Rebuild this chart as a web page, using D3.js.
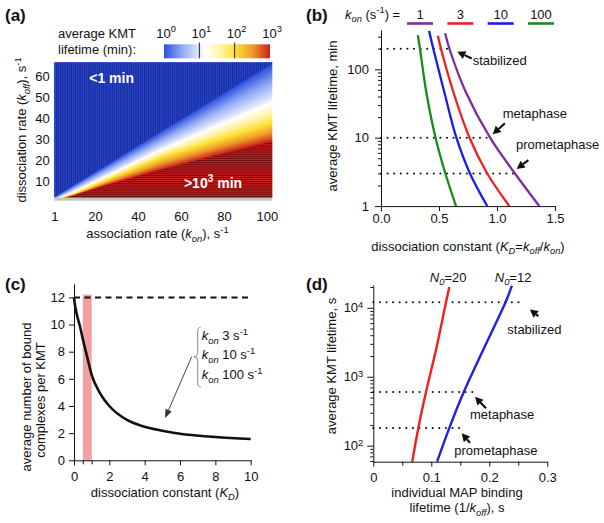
<!DOCTYPE html>
<html>
<head>
<meta charset="utf-8">
<script src="https://cdn.jsdelivr.net/npm/d3@7"></script>
<style>
  body { margin: 0; background: #fff; }
  svg { display: block; }
  text { font-family: "Liberation Sans", Arial, Helvetica, sans-serif; fill: #111; }
</style>
</head>
<body>
<svg id="fig" width="604" height="523"></svg>
<script>
// ---------- data ----------

// (a) heat map: iso-lifetime lines, k_off (s-1) at a given k_on (s-1)
const heatKon       = [1, 10, 25, 50, 75, 100];
const koffAt1min    = [2.6, 8.3, 17.6, 33.2, 48.7, 64.3];
const koffAt10min   = [1.6, 5.6, 13.1, 25.6, 37.0, 48.1];
const koffAt100min  = [1.2, 4.1, 10.6, 21.2, 29.2, 37.1];
const koffAt1000min = [1.0, 3.5, 8.3, 15.5, 22.1, 28.4];
const heatGrayKoff = 2.4;              // undefined rows at the bottom
const aXTicks = [1, 20, 40, 60, 80, 100];
const aYTicks = [10, 20, 30, 40, 50, 60];
const cbarTicks = [1, 10, 100, 1000];
const cbarStops = [0, 0.5, 1.15, 1.6, 2.0, 2.5, 3.0];   // log10(min)
const cbarColors = ["#2e50e0", "#8ea8f4", "#ffffff", "#fff4a8", "#fde234", "#ee9a2a", "#cc1e1e"];

// (b) lifetime (min) vs K_D for four k_on values
const bKon = [1, 3, 10, 100];
const bColors = ["#7a2da0", "#ee2020", "#1c1ce8", "#1b8a1b"];
const kdKon1   = [0.553, 0.59, 0.73, 0.94, 1.155, 1.365];
const lifeKon1 = [336, 200, 47, 10, 3, 1];
const kdKon3   = [0.49, 0.517, 0.623, 0.763, 0.916, 1.106];
const lifeKon3 = [309, 200, 47, 10, 3, 1];
const kdKon10   = [0.414, 0.451, 0.545, 0.65, 0.767, 0.916];
const lifeKon10 = [365, 200, 47, 10, 3, 1];
const kdKon100   = [0.318, 0.336, 0.39, 0.47, 0.555, 0.647];
const lifeKon100 = [316, 200, 47, 10, 3, 1];
const stageNames = ["stabilized", "metaphase", "prometaphase"];
const bStageLife = [200, 10, 3];
const bStageKD = [0.623, 0.94, 1.155];
const bXTicks = [0, 0.5, 1.0, 1.5];

// (c) bound complexes vs K_D
const cKD    = [0, 0.06, 0.15, 0.34, 0.53, 0.72, 1.0, 1.47, 2.0, 3.0, 4.0, 5.0, 6.0, 8.0, 10.0];
const cBound = [12, 11.4, 10.8, 9.85, 8.75, 7.75, 6.3, 4.95, 4.0, 2.97, 2.47, 2.18, 1.95, 1.72, 1.57];
const cMaxSites = 12;
const cBand = [0.5, 1.0];
const cXTicks = [0, 2, 4, 6, 8, 10];
const cYTicks = [0, 2, 4, 6, 8, 10, 12];
const cKonLabels = ["3", "10", "100"];

// (d) lifetime (s) vs individual binding lifetime (s)
const dN0 = [20, 12];
const dColors = ["#ee2020", "#2020e0"];
const dXn20    = [0.0672, 0.0776, 0.0909, 0.1093, 0.1253, 0.131];
const dLifeN20 = [58.6, 180, 600, 2720, 12000, 20000];
const dXn12    = [0.110, 0.131, 0.156, 0.192, 0.228, 0.239];
const dLifeN12 = [58.6, 180, 600, 2720, 12000, 20900];
const dStageLife = [12000, 600, 180];
const dStageX = [0.253, 0.1724, 0.148];
const dXTicks = [0, 0.1, 0.2, 0.3];

// ---------- helpers ----------
const svg = d3.select("#fig");
svg.append("rect").attr("width", 604).attr("height", 523).attr("fill", "#fff");
const FS = 13;

// text with italic / sub / sup pieces: parts = [[str, style], ...]
function rich(g, x, y, parts, fs, anchor) {
  const t = g.append("text").attr("x", x).attr("y", y)
    .attr("font-size", fs).attr("text-anchor", anchor || "start");
  let shift = 0;
  parts.forEach(p => {
    const str = typeof p === "string" ? p : p[0];
    const st = typeof p === "string" ? "" : p[1];
    let target = 0, size = fs;
    if (st.includes("sub")) { target = 0.28 * fs; size = 0.72 * fs; }
    if (st.includes("sup")) { target = -0.42 * fs; size = 0.72 * fs; }
    const ts = t.append("tspan").text(str).attr("font-size", size).attr("dy", target - shift);
    if (st.startsWith("i")) ts.attr("font-style", "italic");
    shift = target;
  });
  return t;
}
function vrich(x, y, parts, fs) {
  const g = svg.append("g").attr("transform", `translate(${x},${y}) rotate(-90)`);
  return rich(g, 0, 0, parts, fs, "middle");
}
function styleAxis(g) {
  g.attr("font-size", FS).attr("font-family", null);
  g.selectAll("path, line").attr("stroke", "#111").attr("stroke-width", 1);
  g.selectAll("text").attr("fill", "#111");
  return g;
}
function powTen(sel) {
  sel.selectAll("text").each(function(d) {
    const t = d3.select(this);
    t.text("");
    t.append("tspan").text("10");
    t.append("tspan").attr("dy", "-0.45em").attr("font-size", "0.72em").text(Math.round(Math.log10(d)));
  });
}
function arrow(g, x1, y1, x2, y2, opt) {
  const o = Object.assign({ color: "#111", width: 2.2, len: 8, half: 4.2, head: "#111" }, opt);
  const a = Math.atan2(y2 - y1, x2 - x1);
  const bx = x2 - o.len * Math.cos(a), by = y2 - o.len * Math.sin(a);
  g.append("line").attr("x1", x1).attr("y1", y1).attr("x2", bx).attr("y2", by)
    .attr("stroke", o.color).attr("stroke-width", o.width);
  const nx = -Math.sin(a) * o.half, ny = Math.cos(a) * o.half;
  g.append("path").attr("d", `M${x2},${y2}L${bx + nx},${by + ny}L${bx - nx},${by - ny}Z`).attr("fill", o.head);
}
function panelLabel(x, y, s) {
  svg.append("text").attr("x", x).attr("y", y).attr("font-size", 17)
    .attr("font-weight", "bold").text(s);
}
const dotted = { dash: "0,6.6", width: 2.1 };

// ================= (a) =================
panelLabel(5, 21, "(a)");
const aX = d3.scaleLinear().domain([1, 102.5]).range([54.3, 272.3]);
const aY = d3.scaleLinear().domain([1, 66.5]).range([200.7, 62.3]);
const cbarColor = d3.scaleLinear().domain(cbarStops).range(cbarColors).clamp(true);
const contourScales = [koffAt1min, koffAt10min, koffAt100min, koffAt1000min]
  .map(r => d3.scaleLinear().domain(heatKon).range(r));

function logLife(kon, koff) {
  const c = contourScales.map(s => s(kon));
  if (koff >= c[0]) return 0;
  if (koff <= c[3]) return 3;
  for (let k = 0; k < 3; k++) {
    if (koff <= c[k] && koff >= c[k + 1]) return k + (c[k] - koff) / (c[k] - c[k + 1]);
  }
  return 3;
}

// heat map raster
const hx0 = aX(1), hx1 = aX(102.5), hy0 = aY(66.5), hy1 = aY(heatGrayKoff);
const SS = 3;
const cw = Math.round((hx1 - hx0) * SS), ch = Math.round((hy1 - hy0) * SS);
const canvas = document.createElement("canvas");
canvas.width = cw; canvas.height = ch;
const ctx = canvas.getContext("2d");
const im = ctx.createImageData(cw, ch);
const cache = new Map();
for (let i = 0; i < cw; i++) {
  const kon = aX.invert(hx0 + (i + 0.5) / SS);
  for (let j = 0; j < ch; j++) {
    const koff = aY.invert(hy0 + (j + 0.5) / SS);
    const t = Math.round(logLife(kon, koff) * 300) / 300;
    let c = cache.get(t);
    if (!c) { c = d3.rgb(cbarColor(t)); cache.set(t, c); }
    const p = (j * cw + i) * 4;
    im.data[p] = c.r; im.data[p + 1] = c.g; im.data[p + 2] = c.b; im.data[p + 3] = 255;
  }
}
ctx.putImageData(im, 0, 0);
svg.append("image").attr("href", canvas.toDataURL())
  .attr("x", hx0).attr("y", hy0).attr("width", hx1 - hx0).attr("height", hy1 - hy0)
  .attr("preserveAspectRatio", "none");

// cell stripes in the saturated regions
const konFine = d3.range(1, 102.51, 0.5);
const clampK = v => Math.max(heatGrayKoff, Math.min(66.5, v));
const bluePoly = konFine.map(k => [aX(k), aY(clampK(contourScales[0](k)))])
  .concat([[aX(102.5), aY(66.5)], [aX(1), aY(66.5)]]);
const redPoly = konFine.map(k => [aX(k), aY(clampK(contourScales[3](k)))])
  .concat([[aX(102.5), aY(heatGrayKoff)], [aX(1), aY(heatGrayKoff)]]);
const defs = svg.append("defs");
defs.append("clipPath").attr("id", "clipBlue").append("path").attr("d", "M" + bluePoly.join("L") + "Z");
defs.append("clipPath").attr("id", "clipRed").append("path").attr("d", "M" + redPoly.join("L") + "Z");
svg.append("g").attr("clip-path", "url(#clipBlue)").selectAll("rect")
  .data([0]).join("rect").attr("x", hx0).attr("y", hy0).attr("width", hx1 - hx0).attr("height", hy1 - hy0)
  .attr("fill", "#2846d6");
svg.append("g").attr("clip-path", "url(#clipBlue)").selectAll("line")
  .data(d3.range(1, 103)).join("line")
  .attr("x1", d => aX(d)).attr("x2", d => aX(d)).attr("y1", hy0).attr("y2", hy1)
  .attr("stroke", "#16267e").attr("stroke-width", 0.85);
svg.append("g").attr("clip-path", "url(#clipRed)").selectAll("rect")
  .data([0]).join("rect").attr("x", hx0).attr("y", hy0).attr("width", hx1 - hx0).attr("height", hy1 - hy0)
  .attr("fill", "#cc1e1e");
svg.append("g").attr("clip-path", "url(#clipRed)").selectAll("line")
  .data(d3.range(3, 67)).join("line")
  .attr("y1", d => aY(d)).attr("y2", d => aY(d)).attr("x1", hx0).attr("x2", hx1)
  .attr("stroke", "#5e0808").attr("stroke-width", 0.85);
svg.append("rect").attr("x", hx0).attr("y", aY(heatGrayKoff)).attr("width", hx1 - hx0)
  .attr("height", aY(1) - aY(heatGrayKoff)).attr("fill", "#c4c4c4");

svg.append("text").attr("x", aX(27.7)).attr("y", aY(56.7)).attr("text-anchor", "middle")
  .attr("font-size", 14).attr("font-weight", "bold").style("fill", "#fff").text("<1 min");
rich(svg, aX(74.9), aY(7), [">10", ["3", "sup"], " min"], 14, "middle")
  .attr("font-weight", "bold").style("fill", "#fff").selectAll("tspan").style("fill", "#fff");

styleAxis(svg.append("g").attr("transform", `translate(0,${aY(1)})`)
  .call(d3.axisBottom(aX).tickValues(aXTicks).tickSize(0).tickPadding(11.5)))
  .call(g => g.select(".domain").remove());
styleAxis(svg.append("g").attr("transform", `translate(${aX(1)},0)`)
  .call(d3.axisLeft(aY).tickValues(aYTicks).tickSize(0).tickPadding(4.5)))
  .call(g => g.select(".domain").remove());
rich(svg, 157.5, 238, ["association rate (", ["k", "i"], ["on", "isub"], "), s", ["-1", "sup"]], FS, "middle");
vrich(26, 130, ["dissociation rate (", ["k", "i"], ["off", "isub"], "), s", ["-1", "sup"]], FS);

// colour bar
const cbX = d3.scaleLog().domain([1, 1000]).range([164, 270]);
const grad = defs.append("linearGradient").attr("id", "cbar");
cbarStops.forEach((s, i) => grad.append("stop").attr("offset", s / 3).attr("stop-color", cbarColors[i]));
svg.append("rect").attr("x", cbX(1)).attr("y", 44.3).attr("width", cbX(1000) - cbX(1)).attr("height", 14)
  .attr("fill", "url(#cbar)");
svg.selectAll(".cbt").data(cbarTicks.slice(1, 3)).join("line")
  .attr("x1", d => cbX(d)).attr("x2", d => cbX(d)).attr("y1", 42.5).attr("y2", 58.3)
  .attr("stroke", "#222").attr("stroke-width", 1);
cbarTicks.forEach(v => rich(svg, cbX(v) + 2, 37.7, ["10", [String(Math.log10(v)), "sup"]], FS, "middle"));
svg.append("text").attr("x", 58).attr("y", 37.7).attr("font-size", FS).text("average KMT");
svg.append("text").attr("x", 58).attr("y", 53.5).attr("font-size", FS).text("lifetime (min):");

// ================= (b) =================
panelLabel(306, 21, "(b)");
const bX = d3.scaleLinear().domain([0, 1.5]).range([381, 555]);
const bY = d3.scaleLog().domain([1, 376]).range([206.1, 30]);
defs.append("clipPath").attr("id", "clipB").append("rect")
  .attr("x", bX(0)).attr("y", bY(376)).attr("width", bX(1.5) - bX(0)).attr("height", bY(1) - bY(376));

const bGrid = svg.append("g");
bStageLife.forEach((v, i) => bGrid.append("line")
  .attr("x1", bX(0)).attr("x2", bX(bStageKD[i])).attr("y1", bY(v)).attr("y2", bY(v))
  .attr("stroke", "#111").attr("stroke-width", dotted.width).attr("stroke-dasharray", dotted.dash)
  .attr("stroke-linecap", "round"));

const bSeries = [[kdKon1, lifeKon1], [kdKon3, lifeKon3], [kdKon10, lifeKon10], [kdKon100, lifeKon100]];
const bLine = d3.line().x(d => bX(d[0])).y(d => bY(d[1])).curve(d3.curveCatmullRom.alpha(0.5));
svg.append("g").attr("clip-path", "url(#clipB)").selectAll("path")
  .data(bSeries).join("path")
  .attr("d", s => bLine(d3.zip(s[0], s[1])))
  .attr("fill", "none").attr("stroke", (s, i) => bColors[i]).attr("stroke-width", 2.3);

styleAxis(svg.append("g").attr("transform", `translate(0,${bY(1)})`)
  .call(d3.axisBottom(bX).tickValues(bXTicks).tickFormat(d3.format(".1f")).tickSize(5).tickSizeOuter(0).tickPadding(3)));
styleAxis(svg.append("g").attr("transform", `translate(${bX(0)},0)`)
  .call(d3.axisLeft(bY).tickValues([1, 10, 100]).tickFormat(d3.format("d")).tickSize(6).tickSizeOuter(0).tickPadding(6)));
styleAxis(svg.append("g").attr("transform", `translate(${bX(0)},0)`)
  .call(d3.axisLeft(bY).tickValues([2, 3, 4, 5, 6, 7, 8, 9, 20, 30, 40, 50, 60, 70, 80, 90, 200, 300]).tickFormat("").tickSize(3)))
  .call(g => g.select(".domain").remove());
rich(svg, 468, 250.5, ["dissociation constant (", ["K", "i"], ["D", "isub"], "=", ["k", "i"], ["off", "isub"], ["/", ""], ["k", "i"], ["on", "isub"], ")"], FS, "middle");
vrich(337, 116, ["average KMT lifetime, min"], FS);

// legend
rich(svg, 345, 18.5, [["k", "i"], ["on", "isub"], " (s", ["-1", "sup"], ") ="], FS, "start");
const legX = d3.scalePoint().domain(bKon).range([420, 541]);
bKon.forEach((k, i) => {
  svg.append("text").attr("x", legX(k)).attr("y", 18.5).attr("text-anchor", "middle").attr("font-size", FS).text(k);
  svg.append("line").attr("x1", legX(k) - 13).attr("x2", legX(k) + 13).attr("y1", 23.5).attr("y2", 23.5)
    .attr("stroke", bColors[i]).attr("stroke-width", 2.6);
});

// stage annotations
const bAnn = [
  { tx: 0.79, ty: 115, ax: 0.782, ay: 144, hx: 0.658, hy: 181 },
  { tx: 1.049, ty: 19.2, ax: 1.068, ay: 16.3, hx: 0.963, hy: 11.2 },
  { tx: 1.164, ty: 6.76, ax: 1.27, ay: 4.72, hx: 1.17, hy: 3.49 }
];
bAnn.forEach((a, i) => {
  svg.append("text").attr("x", bX(a.tx)).attr("y", bY(a.ty)).attr("font-size", FS).text(stageNames[i]);
  arrow(svg, bX(a.ax), bY(a.ay), bX(a.hx), bY(a.hy));
});

// ================= (c) =================
panelLabel(5, 290, "(c)");
const cX = d3.scaleLinear().domain([0, 10]).range([74, 250.7]);
const cY = d3.scaleLinear().domain([0, 13]).range([460.3, 283.8]);
svg.append("rect").attr("x", cX(cBand[0])).attr("width", cX(cBand[1]) - cX(cBand[0]))
  .attr("y", cY(12.2)).attr("height", cY(0) - cY(12.2)).attr("fill", "#f5a0a0");
svg.append("line").attr("x1", cX(0)).attr("x2", cX(10.06)).attr("y1", cY(cMaxSites)).attr("y2", cY(cMaxSites))
  .attr("stroke", "#111").attr("stroke-width", 2).attr("stroke-dasharray", "6,4.5");
svg.append("path").datum(d3.zip(cKD, cBound))
  .attr("d", d3.line().x(d => cX(d[0])).y(d => cY(d[1])).curve(d3.curveMonotoneX))
  .attr("fill", "none").attr("stroke", "#111").attr("stroke-width", 2.6);
styleAxis(svg.append("g").attr("transform", `translate(0,${cY(0)})`)
  .call(d3.axisBottom(cX).tickValues(cXTicks).tickSize(5).tickSizeOuter(0).tickPadding(6)));
styleAxis(svg.append("g").attr("transform", `translate(0,${cY(0)})`)
  .call(d3.axisBottom(cX).tickValues(cBand).tickFormat("").tickSize(4)))
  .call(g => g.select(".domain").remove());
styleAxis(svg.append("g").attr("transform", `translate(${cX(0)},0)`)
  .call(d3.axisLeft(cY).tickValues(cYTicks).tickSize(5).tickSizeOuter(0).tickPadding(4)));
rich(svg, 165, 496.5, ["dissociation constant (", ["K", "i"], ["D", "isub"], ")"], FS, "middle");
vrich(31, 397, ["average number of bound"], FS);
vrich(44.5, 400, ["complexes per KMT"], FS);

// brace + k_on list
const braceX = cX(7.0), braceTop = cY(9.8), braceBot = cY(5.4), braceMid = cY(7.63);
svg.append("path")
  .attr("d", `M${braceX + 3},${braceTop} Q${braceX},${braceTop} ${braceX},${braceTop + 5} L${braceX},${braceMid - 4}
    Q${braceX},${braceMid} ${braceX - 4},${braceMid} Q${braceX},${braceMid} ${braceX},${braceMid + 4}
    L${braceX},${braceBot - 5} Q${braceX},${braceBot} ${braceX + 3},${braceBot}`)
  .attr("fill", "none").attr("stroke", "#888").attr("stroke-width", 1);
const cLabelY = [8.86, 7.44, 5.99];
cKonLabels.forEach((k, i) => rich(svg, cX(7.23), cY(cLabelY[i]),
  [["k", "i"], ["on", "isub"], " " + k + " s", ["-1", "sup"]], FS, "start"));
arrow(svg, cX(6.66), cY(7.63), cX(5.15), cY(3.09), { color: "#444", width: 1, len: 9, half: 3.3, head: "#333" });

// ================= (d) =================
panelLabel(306, 290, "(d)");
const dX = d3.scaleLinear().domain([0, 0.3]).range([373.3, 547.3]);
const dY = d3.scaleLog().domain([58.6, 21400]).range([461.7, 285]);
dStageLife.forEach((v, i) => svg.append("line")
  .attr("x1", dX(0)).attr("x2", dX(dStageX[i])).attr("y1", dY(v)).attr("y2", dY(v))
  .attr("stroke", "#111").attr("stroke-width", dotted.width).attr("stroke-dasharray", dotted.dash)
  .attr("stroke-linecap", "round"));
const dSeries = [[dXn20, dLifeN20], [dXn12, dLifeN12]];
const dLine = d3.line().x(d => dX(d[0])).y(d => dY(d[1])).curve(d3.curveCatmullRom.alpha(0.5));
svg.selectAll(".dcurve").data(dSeries).join("path")
  .attr("d", s => dLine(d3.zip(s[0], s[1])))
  .attr("fill", "none").attr("stroke", (s, i) => dColors[i]).attr("stroke-width", 2.4);
styleAxis(svg.append("g").attr("transform", `translate(0,${dY(58.6)})`)
  .call(d3.axisBottom(dX).tickValues(dXTicks).tickFormat(d => d === 0 ? "0" : d3.format(".1f")(d))
    .tickSize(5).tickSizeOuter(0).tickPadding(6)));
styleAxis(svg.append("g").attr("transform", `translate(0,${dY(58.6)})`)
  .call(d3.axisBottom(dX).tickValues([0.05, 0.15, 0.25]).tickFormat("").tickSize(4)))
  .call(g => g.select(".domain").remove());
styleAxis(svg.append("g").attr("transform", `translate(${dX(0)},0)`)
  .call(d3.axisLeft(dY).tickValues([100, 1000, 10000]).tickSize(6).tickSizeOuter(0).tickPadding(4)))
  .call(powTen);
const dMinor = [60, 70, 80, 90].concat(d3.range(200, 1000, 100), d3.range(2000, 10000, 1000), [20000]);
styleAxis(svg.append("g").attr("transform", `translate(${dX(0)},0)`)
  .call(d3.axisLeft(dY).tickValues(dMinor).tickFormat("").tickSize(3)))
  .call(g => g.select(".domain").remove());
rich(svg, 457, 496.5, ["individual MAP binding"], FS, "middle");
rich(svg, 457, 512, ["lifetime (1/", ["k", "i"], ["off", "isub"], "), s"], FS, "middle");
vrich(336, 366, ["average KMT lifetime, s"], FS);

const dLabX = [0.129, 0.241];
dN0.forEach((n, i) => rich(svg, dX(dLabX[i]), 281.7, [["N", "i"], ["0", "isub"], "=" + n], FS, "middle"));

const dAnn = [
  { tx: 0.231, ty: 4160, ax: 0.2845, ay: 7590, hx: 0.270, hy: 9480 },
  { tx: 0.1667, ty: 241, ax: 0.1943, ay: 348, hx: 0.1753, hy: 513 },
  { tx: 0.1397, ty: 73.3, ax: 0.1667, ay: 110, hx: 0.1524, hy: 151 }
];
dAnn.forEach((a, i) => {
  svg.append("text").attr("x", dX(a.tx)).attr("y", dY(a.ty)).attr("font-size", FS).text(stageNames[i]);
  arrow(svg, dX(a.ax), dY(a.ay), dX(a.hx), dY(a.hy));
});
</script>
</body>
</html>
